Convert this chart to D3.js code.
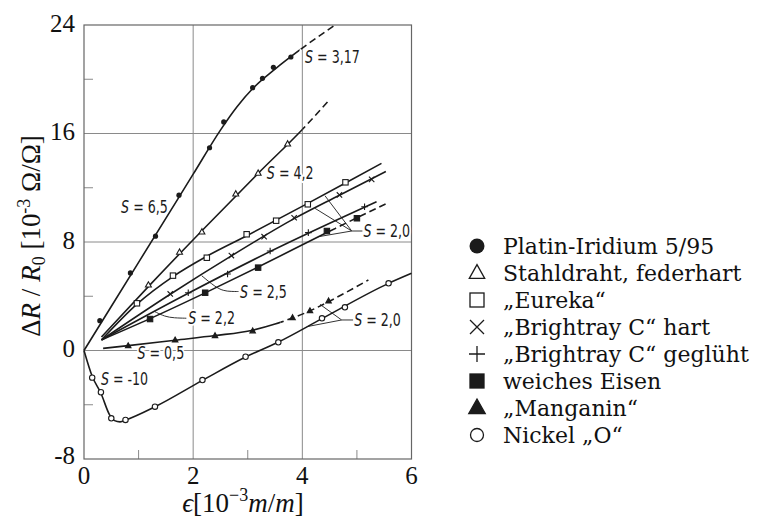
<!DOCTYPE html>
<html><head><meta charset="utf-8">
<script src="https://cdn.jsdelivr.net/npm/d3@7"></script>
<style>body{margin:0;background:#fff}</style>
</head><body><svg id="c" width="764" height="520"></svg>
<script>
// ---------- axes ----------
const xTicks = [0, 2, 4, 6];
const xTickLabels = ["0", "2", "4", "6"];
const yTicks = [-8, 0, 8, 16, 24];
const yTickLabels = ["-8", "0", "8", "16", "24"];
const xMinor = [1, 3, 5];
const yMinor = [-4, 4, 12, 20];

// ---------- series: markers (measured points) and drawn curve ----------
const platinX = [0.29, 0.85, 1.31, 1.74, 2.30, 2.56, 3.09, 3.27, 3.47, 3.79];
const platinY = [2.20, 5.72, 8.43, 11.45, 14.95, 16.85, 19.38, 20.07, 20.88, 21.64];
const platinLineX = [0, 1.0, 2.0, 2.5, 2.8, 3.1, 3.5, 4.0, 4.6];
const platinLineY = [0, 6.5, 13.0, 16.25, 17.95, 19.35, 20.75, 22.3, 24.0];

const stahlX = [1.18, 1.75, 2.16, 2.78, 3.19, 3.73];
const stahlY = [4.83, 7.25, 8.74, 11.54, 13.07, 15.23];
const stahlLineX = [0.32, 1.2, 2.2, 3.2, 4.0, 4.49];
const stahlLineY = [1.0, 4.8, 9.0, 13.1, 16.3, 18.45];

const eurekaX = [0.97, 1.63, 2.25, 2.98, 3.52, 4.10, 4.79];
const eurekaY = [3.48, 5.52, 6.84, 8.57, 9.57, 10.78, 12.40];
const eurekaLineX = [0.32, 0.97, 1.63, 2.25, 3.0, 4.1, 4.79, 5.45];
const eurekaLineY = [0.78, 3.42, 5.45, 6.95, 8.5, 10.85, 12.35, 13.8];

const hartX = [1.58, 2.70, 3.30, 3.85, 4.68, 5.27];
const hartY = [4.17, 7.00, 8.39, 9.79, 11.47, 12.62];
const hartLineX = [0.32, 1.58, 2.70, 3.85, 4.68, 5.53];
const hartLineY = [0.78, 4.15, 6.98, 9.72, 11.45, 13.2];

const gegluehtX = [1.91, 2.63, 3.41, 4.11, 5.14];
const gegluehtY = [4.26, 5.64, 7.34, 8.69, 10.60];
const gegluehtLineX = [0.32, 1.91, 3.41, 5.36];
const gegluehtLineY = [0.78, 4.22, 7.3, 10.97];

const eisenX = [1.21, 2.22, 3.19, 4.45, 5.00];
const eisenY = [2.32, 4.26, 6.11, 8.81, 9.75];
const eisenLineX = [0.32, 1.21, 2.22, 3.19, 4.45, 5.55];
const eisenLineY = [0.78, 2.35, 4.25, 6.15, 8.7, 10.85];

const manganinX = [0.81, 1.67, 2.40, 3.09, 3.82, 4.14, 4.48];
const manganinY = [0.35, 0.77, 1.09, 1.44, 2.42, 2.93, 3.65];
const manganinLineX = [0.35, 0.81, 1.67, 2.40, 3.09, 3.5, 3.82, 4.14, 4.48, 5.21];
const manganinLineY = [0.16, 0.36, 0.76, 1.10, 1.50, 1.95, 2.40, 2.92, 3.6, 5.2];

const nickelX = [0.15, 0.31, 0.50, 0.76, 1.30, 2.17, 2.96, 3.56, 4.36, 4.78, 5.58];
const nickelY = [-2.0, -3.08, -5.0, -5.12, -4.14, -2.18, -0.46, 0.60, 2.37, 3.18, 4.95];
const nickelLineX = [0, 0.15, 0.31, 0.47, 0.56, 0.66, 0.78, 1.3, 2.17, 2.96, 3.56, 4.36, 5.58, 6.0];
const nickelLineY = [0, -1.9, -3.15, -4.75, -5.17, -5.26, -5.1, -4.15, -2.2, -0.48, 0.62, 2.35, 4.95, 5.69];

const seriesNames = ["Platin-Iridium 5/95", "Stahldraht, federhart", "\u201EEureka\u201C",
  "\u201EBrightray C\u201C hart", "\u201EBrightray C\u201C geglüht", "weiches Eisen",
  "\u201EManganin\u201C", "Nickel \u201EO\u201C"];
const seriesMarkers = ["dot", "tri", "sq", "x", "plus", "fsq", "ftri", "circ"];
const seriesDashFrom = [3.95, 4.0, null, null, null, 4.6, 3.6, null];

// ---------- gauge factor annotations ----------
const labelText = ["3,17", "4,2", "6,5", "2,0", "2,5", "2,2", "0,5", "-10", "2,0"];
const labelX = [4.05, 3.35, 0.68, 5.12, 2.86, 1.91, 0.98, 0.31, 4.95];
const labelY = [21.2, 12.65, 10.14, 8.37, 3.87, 1.92, -0.66, -2.58, 1.81];

// leader lines (data coordinates)
const leaderStraight = [
  [[4.905, 8.81], [5.10, 8.81]],
  [[4.905, 8.81], [4.415, 11.41]],
  [[4.905, 8.81], [4.233, 10.48]],
  [[4.905, 8.81], [4.293, 8.39]],
  [[4.72, 2.25], [4.93, 2.25]],
  [[4.72, 2.25], [4.324, 3.40]],
  [[4.72, 2.25], [4.08, 1.755]]
];
const leaderCurved = [
  [[2.156, 5.515], [2.40, 4.7], [2.55, 4.40], [2.70, 4.35], [2.83, 4.35]],
  [[1.30, 2.86], [1.48, 2.50], [1.65, 2.40], [1.875, 2.38]]
];

// ---------- build ----------
const svg = d3.select("#c");
const x = d3.scaleLinear().domain([0, 6]).range([84, 411.5]);
const y = d3.scaleLinear().domain([-8, 24]).range([459, 25]);

const zip = (a, b) => a.map((v, i) => [v, b[i]]);
const series = [
  { pts: zip(platinX, platinY), line: zip(platinLineX, platinLineY) },
  { pts: zip(stahlX, stahlY), line: zip(stahlLineX, stahlLineY) },
  { pts: zip(eurekaX, eurekaY), line: zip(eurekaLineX, eurekaLineY) },
  { pts: zip(hartX, hartY), line: zip(hartLineX, hartLineY) },
  { pts: zip(gegluehtX, gegluehtY), line: zip(gegluehtLineX, gegluehtLineY) },
  { pts: zip(eisenX, eisenY), line: zip(eisenLineX, eisenLineY) },
  { pts: zip(manganinX, manganinY), line: zip(manganinLineX, manganinLineY) },
  { pts: zip(nickelX, nickelY), line: zip(nickelLineX, nickelLineY) }
].map((s, i) => Object.assign(s, { name: seriesNames[i], marker: seriesMarkers[i], dashFrom: seriesDashFrom[i] }));

const INK = "#1b1b1b";
const GRID = "#8a8a8a";

// grid lines
const grid = svg.append("g");
grid.selectAll("line.gx").data(xTicks.slice(1, -1)).join("line")
  .attr("x1", d => x(d)).attr("x2", d => x(d)).attr("y1", y(24)).attr("y2", y(-8))
  .attr("stroke", GRID).attr("stroke-width", 1);
grid.selectAll("line.gy").data(yTicks.slice(1, -1)).join("line")
  .attr("y1", d => y(d)).attr("y2", d => y(d)).attr("x1", x(0)).attr("x2", x(6))
  .attr("stroke", GRID).attr("stroke-width", 1);
// minor ticks (inward)
grid.selectAll("line.mx").data(xMinor).join("line")
  .attr("x1", d => x(d)).attr("x2", d => x(d)).attr("y1", y(-8)).attr("y2", y(-8) - 9)
  .attr("stroke", GRID).attr("stroke-width", 1);
grid.selectAll("line.my").data(yMinor).join("line")
  .attr("y1", d => y(d)).attr("y2", d => y(d)).attr("x1", x(0)).attr("x2", x(0) + 9)
  .attr("stroke", GRID).attr("stroke-width", 1);
// frame
svg.append("rect").attr("x", x(0)).attr("y", y(24))
  .attr("width", x(6) - x(0)).attr("height", y(-8) - y(24))
  .attr("fill", "none").attr("stroke", "#666").attr("stroke-width", 1.2);

// tick labels
const serif = "'Liberation Serif', 'Times New Roman', serif";
svg.selectAll("text.yt").data(yTicks).join("text")
  .attr("x", 75).attr("y", (d) => y(d) - (d === -8 ? 4 : 2))
  .attr("text-anchor", "end").attr("dominant-baseline", "central")
  .attr("font-family", serif).attr("font-size", 25).attr("fill", "#111")
  .text((d, i) => yTickLabels[i]);
svg.selectAll("text.xt").data(xTicks).join("text")
  .attr("x", d => x(d)).attr("y", 484)
  .attr("text-anchor", "middle")
  .attr("font-family", serif).attr("font-size", 25).attr("fill", "#111")
  .text((d, i) => xTickLabels[i]);

// axis titles
const xt = svg.append("text").attr("x", 243).attr("y", 512).attr("text-anchor", "middle")
  .attr("font-family", serif).attr("font-size", 27).attr("fill", "#111");
xt.append("tspan").attr("font-style", "italic").text("\u03F5");
xt.append("tspan").text("[10");
xt.append("tspan").attr("font-size", 18).attr("dy", -11).text("\u22123");
xt.append("tspan").attr("font-style", "italic").attr("dy", 11).text("m");
xt.append("tspan").text("/");
xt.append("tspan").attr("font-style", "italic").text("m");
xt.append("tspan").text("]");

const yt = svg.append("text").attr("transform", "translate(40,236) rotate(-90)")
  .attr("text-anchor", "middle").attr("font-family", serif).attr("font-size", 27).attr("fill", "#111");
yt.append("tspan").text("\u0394");
yt.append("tspan").attr("font-style", "italic").text("R");
yt.append("tspan").text(" / ");
yt.append("tspan").attr("font-style", "italic").text("R");
yt.append("tspan").attr("font-size", 18).attr("dy", 5).text("0");
yt.append("tspan").attr("dy", -5).text(" [10");
yt.append("tspan").attr("font-size", 18).attr("dy", -10).text("-3");
yt.append("tspan").attr("dy", 10).text(" \u03A9/\u03A9]");

// gauge factor labels with white halo (interrupt grid lines), narrow DIN-like look
const sans = "'DejaVu Sans Condensed', 'DejaVu Sans', sans-serif";
const lab = svg.append("g");
labelText.forEach((t, i) => {
  const tx = lab.append("text")
    .attr("transform", `translate(${x(labelX[i])},${y(labelY[i])}) scale(0.78,1)`)
    .attr("font-family", sans).attr("font-size", 18).attr("font-stretch", "condensed")
    .attr("fill", INK).attr("stroke", "#fff").attr("stroke-width", 4)
    .attr("paint-order", "stroke").attr("stroke-linejoin", "round");
  tx.append("tspan").attr("font-style", "italic").text("S");
  tx.append("tspan").text(" = " + t);
});

// leader lines
const lineGen = d3.line().x(d => x(d[0])).y(d => y(d[1]));
svg.append("g").selectAll("path").data(leaderStraight).join("path")
  .attr("d", lineGen).attr("fill", "none").attr("stroke", "#333").attr("stroke-width", 1);
const basisGen = d3.line().x(d => x(d[0])).y(d => y(d[1])).curve(d3.curveBasis);
svg.append("g").selectAll("path").data(leaderCurved).join("path")
  .attr("d", basisGen).attr("fill", "none").attr("stroke", "#333").attr("stroke-width", 1);

// curves
const defs = svg.append("defs");
const curveGen = d3.line().x(d => x(d[0])).y(d => y(d[1])).curve(d3.curveMonotoneX);
const curves = svg.append("g");
series.forEach((s, i) => {
  const d = curveGen(s.line);
  if (s.dashFrom == null) {
    curves.append("path").attr("d", d).attr("fill", "none").attr("stroke", INK).attr("stroke-width", 1.6);
  } else {
    defs.append("clipPath").attr("id", "cs" + i).append("rect")
      .attr("x", 0).attr("y", 0).attr("width", x(s.dashFrom)).attr("height", 520);
    defs.append("clipPath").attr("id", "cd" + i).append("rect")
      .attr("x", x(s.dashFrom)).attr("y", 0).attr("width", 764).attr("height", 520);
    curves.append("path").attr("d", d).attr("fill", "none").attr("stroke", INK)
      .attr("stroke-width", 1.6).attr("clip-path", "url(#cs" + i + ")");
    curves.append("path").attr("d", d).attr("fill", "none").attr("stroke", INK)
      .attr("stroke-width", 1.6).attr("stroke-dasharray", "7,4").attr("clip-path", "url(#cd" + i + ")");
  }
});

// markers
function marker(g, type, cx, cy, s, sw) {
  const h = s / 2;
  switch (type) {
    case "dot":
      g.append("circle").attr("cx", cx).attr("cy", cy).attr("r", h).attr("fill", INK); break;
    case "circ":
      g.append("circle").attr("cx", cx).attr("cy", cy).attr("r", h).attr("fill", "#fff")
        .attr("stroke", INK).attr("stroke-width", sw); break;
    case "tri":
    case "ftri": {
      const pts = [[cx, cy - s * 0.6], [cx - s * 0.55, cy + s * 0.38], [cx + s * 0.55, cy + s * 0.38]];
      g.append("polygon").attr("points", pts.map(p => p.join(",")).join(" "))
        .attr("fill", type === "ftri" ? INK : "#fff").attr("stroke", INK).attr("stroke-width", sw)
        .attr("stroke-linejoin", "miter");
      break;
    }
    case "sq":
    case "fsq":
      g.append("rect").attr("x", cx - h).attr("y", cy - h).attr("width", s).attr("height", s)
        .attr("fill", type === "fsq" ? INK : "#fff").attr("stroke", INK).attr("stroke-width", sw); break;
    case "x":
      g.append("path").attr("d", `M${cx - h},${cy - h}L${cx + h},${cy + h}M${cx - h},${cy + h}L${cx + h},${cy - h}`)
        .attr("stroke", INK).attr("stroke-width", sw).attr("fill", "none"); break;
    case "plus":
      g.append("path").attr("d", `M${cx - h},${cy}L${cx + h},${cy}M${cx},${cy - h}L${cx},${cy + h}`)
        .attr("stroke", INK).attr("stroke-width", sw).attr("fill", "none"); break;
  }
}
const plotSize = { dot: 5.2, circ: 5.4, tri: 5.4, ftri: 5.0, sq: 5.4, fsq: 5.4, x: 5.4, plus: 6.6 };
const mk = svg.append("g");
series.forEach(s => {
  s.pts.forEach(p => marker(mk, s.marker, x(p[0]), y(p[1]), plotSize[s.marker], 1.1));
});

// legend
const legSize = { dot: 15, circ: 13, tri: 14, ftri: 15, sq: 14, fsq: 14, x: 14, plus: 16 };
const leg = svg.append("g");
series.forEach((s, i) => {
  const cy = 246 + i * 27;
  marker(leg, s.marker, 477, cy, legSize[s.marker], 1.3);
  leg.append("text").attr("x", 503).attr("y", cy).attr("dy", "0.36em")
    .attr("font-family", "'DejaVu Serif', serif").attr("font-size", 22).attr("fill", "#111")
    .text(s.name);
});
</script>
</body></html>
